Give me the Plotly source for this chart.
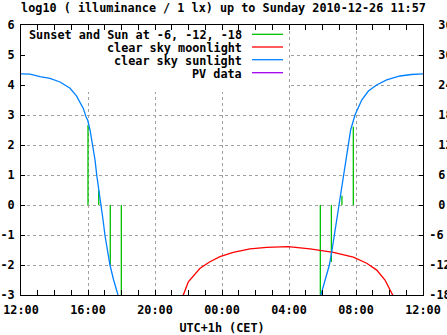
import plotly.graph_objects as go

# ---- data (time in hours since 2010-12-25 00:00 CET) ----
sun_t = [12.0, 12.54, 13.13, 13.73, 14.33, 14.7, 14.93, 15.32, 15.55, 15.72, 15.88, 15.98,
         16.12, 16.28, 16.42, 16.52, 16.66, 16.76, 16.9, 17.01, 17.15, 17.31, 17.53, 17.79, 18.0,
         29.7, 29.89, 30.15, 30.41, 30.57, 30.71, 30.86, 31.0, 31.15, 31.3, 31.42, 31.54, 31.68,
         31.94, 32.34, 32.74, 33.23, 33.83, 34.63, 35.3, 36.0]
sun_v = [4.37, 4.36, 4.28, 4.22, 4.10, 3.98, 3.89, 3.63, 3.42, 3.22, 2.94, 2.83,
         2.5, 2.0, 1.5, 1.0, 0.5, 0.0, -0.5, -1.0, -1.5, -2.0, -2.5, -3.0, -3.4,
         -3.4, -3.0, -2.5, -2.0, -1.5, -1.0, -0.5, 0.0, 0.5, 1.0, 1.5, 2.0, 2.5,
         3.0, 3.5, 3.8, 4.0, 4.17, 4.3, 4.35, 4.37]
sun_gap_after = 18.0  # no sunlight values between dusk and dawn

moon_t = [21.62, 21.69, 21.99, 22.29, 22.69, 23.28, 23.88, 24.67, 25.67, 26.67, 27.96,
          29.25, 30.65, 31.84, 32.64, 33.24, 33.73, 34.19, 34.3]
moon_v = [-3.3, -3.0, -2.56, -2.37, -2.11, -1.89, -1.72, -1.58, -1.46, -1.41, -1.39,
          -1.46, -1.58, -1.74, -1.94, -2.17, -2.5, -3.0, -3.3]

event_t = [16.0, 16.64, 17.33, 17.99, 29.87, 30.53, 31.16, 31.84]
event_v = [2.67, 0.48, -2.0, -3.3, -3.3, -1.9, 0.31, 2.61]

pv_t = []
pv_v = []

x_ticks = [12, 16, 20, 24, 28, 32, 36]
x_labels = ["12:00", "16:00", "20:00", "00:00", "04:00", "08:00", "12:00"]
y_ticks = [-3, -2, -1, 0, 1, 2, 3, 4, 5, 6]
y2_ticks = [-18, -12, -6, 0, 6, 12, 18, 24, 30, 36]

legend_names = ["Sunset and Sun at -6, -12, -18", "clear sky moonlight", "clear sky sunlight", "PV data"]
colors = ["#00c000", "#ff0000", "#0080ff", "#a000f0"]

FONT = dict(family="DejaVu Sans Mono", size=11.8, color="black", weight="bold")

# ---- build traces ----
sx, sy = [], []
for t, v in zip(sun_t, sun_v):
    sx.append(t); sy.append(v)
    if t == sun_gap_after:
        sx.append(None); sy.append(None)

ex, ey = [], []
for t, v in zip(event_t, event_v):
    ex += [t, t, None]
    ey += [0, v, None]

fig = go.Figure()
fig.add_trace(go.Scatter(x=ex, y=ey, mode="lines", line=dict(color=colors[0], width=1.3),
                         showlegend=False, hoverinfo="skip"))
fig.add_trace(go.Scatter(x=moon_t, y=moon_v, mode="lines", line=dict(color=colors[1], width=1.3),
                         showlegend=False))
fig.add_trace(go.Scatter(x=sx, y=sy, mode="lines", line=dict(color=colors[2], width=1.3),
                         showlegend=False, connectgaps=False))
fig.add_trace(go.Scatter(x=pv_t if pv_t else [None], y=pv_v if pv_v else [None], mode="lines",
                         line=dict(color=colors[3], width=1.3), yaxis="y2", showlegend=False))

# ---- layout geometry (pixels) ----
W, H = 447, 335
L, R, T, B = 21, 24, 25, 40
pw, ph = W - L - R, H - T - B

def px(x):
    return (x - L) / pw

def py(y):
    return (H - B - y) / ph

shapes = [dict(type="rect", xref="x", yref="y", x0=12, x1=28, y0=3.77, y1=6,
               fillcolor="white", line=dict(width=0), layer="between")]
annotations = []
rows = [34.3, 47.0, 59.7, 72.7]
for name, col, r in zip(legend_names, colors, rows):
    annotations.append(dict(xref="paper", yref="paper", x=px(244), y=py(r + 1), text=name,
                            showarrow=False, xanchor="right", yanchor="middle", font=FONT))
    shapes.append(dict(type="line", xref="paper", yref="paper", x0=px(252), x1=px(283),
                       y0=py(r), y1=py(r), line=dict(color=col, width=1.3), layer="above"))

BLANK = "\u2800"  # blank glyph standing in for gnuplot's sign column

fig.update_layout(
    width=W, height=H,
    margin=dict(l=L, r=R, t=T, b=B, autoexpand=False),
    paper_bgcolor="white", plot_bgcolor="white",
    font=FONT,
    title=dict(text="log10 ( illuminance / 1 lx) up to Sunday 2010-12-26 11:57",
               x=px(222), xanchor="center", y=1 - 7.5 / H, yanchor="middle", font=FONT),
    showlegend=False,
    shapes=shapes,
    annotations=annotations,
    xaxis=dict(range=[12, 36], tickmode="array", tickvals=x_ticks, ticktext=x_labels,
               showline=True, linecolor="black", linewidth=1, mirror="allticks",
               ticks="inside", ticklen=5, tickcolor="black", ticklabelstandoff=4,
               showgrid=True, gridcolor="#a0a0a0", griddash="dot", gridwidth=1,
               zeroline=False, tickfont=FONT, automargin=False,
               minor=dict(dtick=1, tick0=12, ticks="inside", ticklen=3, tickcolor="black", showgrid=False),
               title=dict(text="UTC+1h (CET)", font=FONT, standoff=9)),
    yaxis=dict(range=[-3, 6], tickmode="array", tickvals=y_ticks,
               ticktext=[str(v) for v in y_ticks],
               showline=True, linecolor="black", linewidth=1, mirror=False,
               ticks="inside", ticklen=4, tickcolor="black", ticklabelstandoff=3,
               showgrid=True, gridcolor="#a0a0a0", griddash="dot", gridwidth=1,
               zeroline=False, tickfont=FONT, automargin=False),
    yaxis2=dict(range=[-18, 36], overlaying="y", side="right", tickmode="array", tickvals=y2_ticks,
                ticktext=[(BLANK + str(v)) if v >= 0 else str(v) for v in y2_ticks],
                showline=True, linecolor="black", linewidth=1,
                ticks="inside", ticklen=4, tickcolor="black", ticklabelstandoff=3,
                showgrid=False, zeroline=False, tickfont=FONT, automargin=False),
)

fig.write_html("out.html")
